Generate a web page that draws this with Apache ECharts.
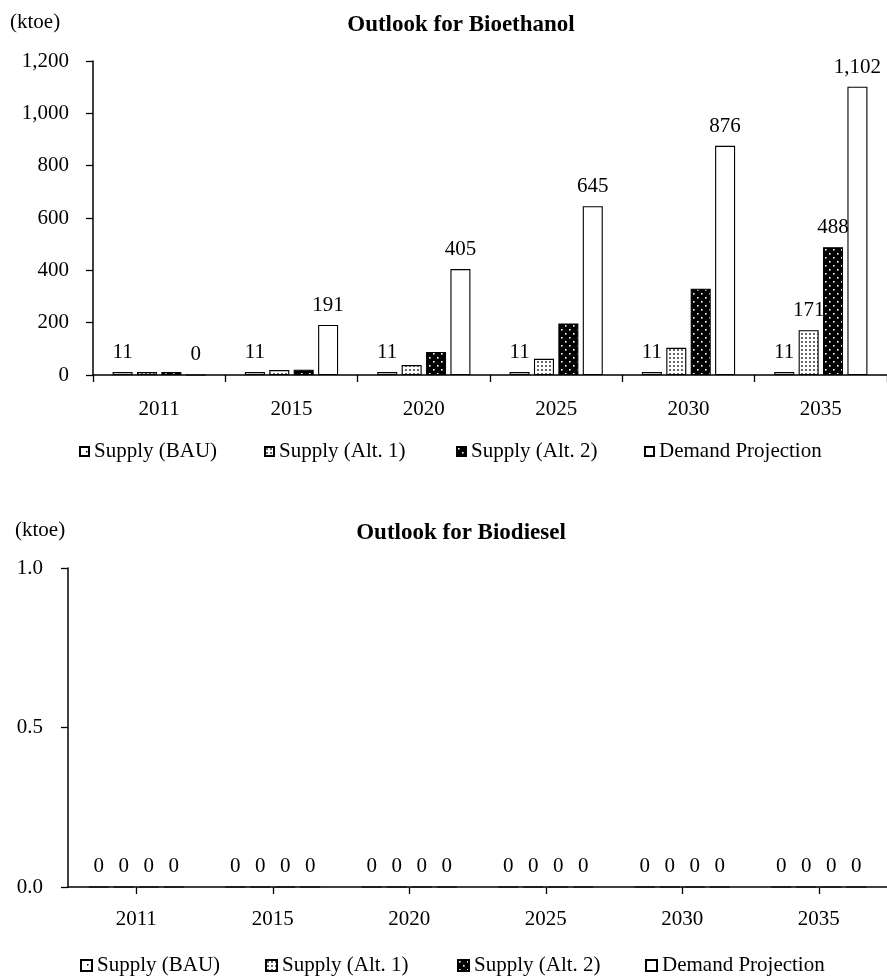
<!DOCTYPE html>
<html>
<head>
<meta charset="utf-8">
<title>Outlook for Bioethanol / Biodiesel</title>
<script src="https://cdn.jsdelivr.net/npm/echarts@6/dist/echarts.min.js"></script>
<style>
    html,body{margin:0;padding:0;background:#fff;}
    #chart{width:887px;height:979px;}
</style>
</head>
<body>
<div id="chart"></div>
<script>
/*data*/
let years = ['2011','2015','2020','2025','2030','2035'];
let seriesNames = ['Supply (BAU)','Supply (Alt. 1)','Supply (Alt. 2)','Demand Projection'];

let ethanolBAU = [11,11,11,11,11,11];
let ethanolAlt1 = [11,19,38,62,104,171];
let ethanolAlt2 = [11,20,88,197,330,488];
let ethanolDemand = [0,191,405,645,876,1102];

let dieselBAU = [0,0,0,0,0,0];
let dieselAlt1 = [0,0,0,0,0,0];
let dieselAlt2 = [0,0,0,0,0,0];
let dieselDemand = [0,0,0,0,0,0];

let ethanolTicks = [0,200,400,600,800,1000,1200];
let dieselTicks = [0,0.5,1.0];

const FONT = "Liberation Serif";

/*fill patterns*/
function makePattern(size,bg,fg,dots,dotSize){
    "use strict";
    let c = document.createElement("canvas");
    c.width = size;
    c.height = size;
    let ctx = c.getContext("2d");
    ctx.fillStyle = bg;
    ctx.fillRect(0,0,size,size);
    ctx.fillStyle = fg;
    dots.forEach(d=>ctx.fillRect(d[0],d[1],dotSize,dotSize));
    return {image:c,repeat:"repeat"};
}
let fills = [
    makePattern(10,"#fff","#000",[[6,4]],1.5),
    makePattern(4,"#fff","#6a6a6a",[[1,1]],2),
    makePattern(8,"#000","#fff",[[1,1],[5,5]],1.6),
    "#fff"
];

function fmt(v){
    return Number(v).toLocaleString("en-US");
}

let labelStyle = {
    show:true,
    position:"top",
    distance:9,
    fontFamily:FONT,
    fontSize:21,
    lineHeight:21,
    color:"#000"
};

function barSeries(name,idx,data,axis,labelRule,barGap){
    return {
        type:"bar",
        name:name,
        xAxisIndex:axis,
        yAxisIndex:axis,
        barWidth:20,
        barGap:barGap,
        itemStyle:{
            color:fills[idx],
            borderColor:"#000",
            borderWidth:1.1
        },
        label:Object.assign({},labelStyle,{
            formatter(p){
                return labelRule(p) ? fmt(p.value) : "";
            }
        }),
        emphasis:{disabled:true},
        data:data
    };
}

let lastOnly = p => p.dataIndex === years.length-1;
let always = () => true;

function legendItem(name,left,top,size){
    return {
        data:[name],
        left:left,
        top:top,
        padding:0,
        icon:"rect",
        itemWidth:size,
        itemHeight:size,
        selectedMode:false,
        textStyle:{fontFamily:FONT,fontSize:21,lineHeight:21,color:"#000"}
    };
}
let legendLefts = [79,264,456,644];

function catAxis(grid,alignWithLabel,margin){
    return {
        type:"category",
        gridIndex:grid,
        data:years,
        boundaryGap:true,
        axisLine:{show:true,lineStyle:{color:"#000",width:1.5}},
        axisTick:{show:true,alignWithLabel:alignWithLabel,length:7,lineStyle:{color:"#000",width:1.3}},
        axisLabel:{fontFamily:FONT,fontSize:21,lineHeight:21,color:"#000",margin:margin,interval:0},
        splitLine:{show:false}
    };
}
function valAxis(grid,ticks,formatter,margin){
    return {
        type:"value",
        gridIndex:grid,
        min:ticks[0],
        max:ticks[ticks.length-1],
        interval:ticks[1]-ticks[0],
        axisLine:{show:true,lineStyle:{color:"#000",width:1.5}},
        axisTick:{show:true,length:7,lineStyle:{color:"#000",width:1.3}},
        axisLabel:{fontFamily:FONT,fontSize:21,color:"#000",margin:margin,formatter:formatter},
        splitLine:{show:false}
    };
}

function textEl(text,x,y,align,bold){
    return {
        type:"text",
        x:x,
        y:y,
        style:{
            text:text,
            fontFamily:FONT,
            fontSize:bold ? 23 : 21,
            fontWeight:bold ? "bold" : "normal",
            fill:"#000",
            align:align,
            verticalAlign:"middle"
        }
    };
}

let option = {
    backgroundColor:"#fff",
    animation:false,
    grid:[
        {left:93,right:-6,top:61,bottom:604},
        {left:68,right:-3,top:568,bottom:92}
    ],
    graphic:[
        textEl("(ktoe)",10,22,"left",false),
        textEl("Outlook for Bioethanol",461,25,"center",true),
        textEl("(ktoe)",15,530,"left",false),
        textEl("Outlook for Biodiesel",461,533,"center",true)
    ],
    legend:seriesNames.map((n,i)=>legendItem(n,legendLefts[i],441,9))
        .concat(seriesNames.map((n,i)=>legendItem(n,legendLefts[i]+1,955,11))),
    xAxis:[catAxis(0,false,24),catAxis(1,true,22)],
    yAxis:[
        valAxis(0,ethanolTicks,v=>fmt(v),24),
        valAxis(1,dieselTicks,v=>v.toFixed(1),25)
    ],
    series:[
        barSeries(seriesNames[0],0,ethanolBAU,0,always,"22%"),
        barSeries(seriesNames[1],1,ethanolAlt1,0,lastOnly,"22%"),
        barSeries(seriesNames[2],2,ethanolAlt2,0,lastOnly,"22%"),
        barSeries(seriesNames[3],3,ethanolDemand,0,always,"22%"),
        barSeries(seriesNames[0],0,dieselBAU,1,always,"25%"),
        barSeries(seriesNames[1],1,dieselAlt1,1,always,"25%"),
        barSeries(seriesNames[2],2,dieselAlt2,1,always,"25%"),
        barSeries(seriesNames[3],3,dieselDemand,1,always,"25%")
    ]
};

let chart = echarts.init(document.getElementById("chart"),null,{renderer:"canvas"});
chart.setOption(option);
</script>
</body>
</html>
